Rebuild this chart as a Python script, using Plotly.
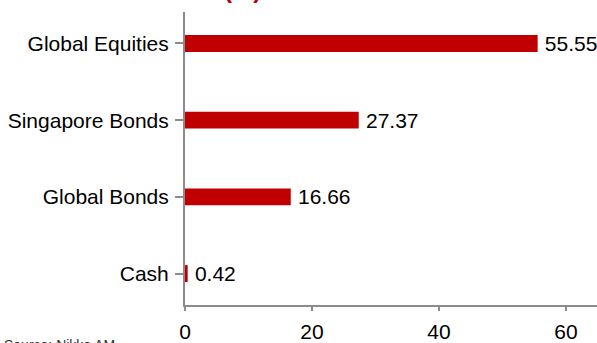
import plotly.graph_objects as go

categories = ["Global Equities", "Singapore Bonds", "Global Bonds", "Cash"]
values = [55.55, 27.37, 16.66, 0.42]
value_labels = ["55.55", "27.37", "16.66", "0.42"]
x_ticks = [0, 20, 40, 60]

FONT = "Liberation Sans, Arial, sans-serif"
W, H = 597, 343
L, R, T, B = 185, 0, 12, 33
pw, ph = W - L - R, H - T - B

fig = go.Figure()
fig.add_trace(go.Bar(
    x=values, y=categories, orientation="h",
    marker=dict(color="#C00000", line=dict(width=0)),
    text=["\u2009" + s for s in value_labels], textposition="outside", constraintext="none",
    textfont=dict(family=FONT, size=21, color="#000000"),
    cliponaxis=False, width=0.22,
))

fig.update_layout(
    width=W, height=H,
    margin=dict(l=L, r=R, t=T, b=B, pad=0),
    paper_bgcolor="white", plot_bgcolor="white",
    showlegend=False,
    font=dict(family=FONT, size=21, color="#000000"),
    xaxis=dict(
        range=[0, 64.9], tickvals=x_ticks, ticktext=[str(v) for v in x_ticks],
        showgrid=False, zeroline=False, showline=True, linecolor="#8c8c8c", linewidth=2,
        ticks="outside", ticklen=4, tickcolor="#8c8c8c", tickwidth=1.5,
        tickfont=dict(family=FONT, size=21, color="#000000"),
        ticklabelstandoff=3,
    ),
    yaxis=dict(
        categoryorder="array", categoryarray=categories[::-1],
        range=[-0.41, 3.41],
        showgrid=False, zeroline=False, showline=True, linecolor="#8c8c8c", linewidth=2,
        ticks="outside", ticklen=8, tickcolor="#8c8c8c", tickwidth=1.5,
        tickfont=dict(family=FONT, size=21, color="#000000"),
        ticklabelstandoff=2,
    ),
)

# Partially visible title at top (clipped by the page, as in the reference)
fig.add_annotation(
    text="<b>(%)</b>", xref="paper", yref="paper",
    x=(242 - L) / pw, y=(H - B - 5) / ph, xanchor="center", yanchor="bottom",
    showarrow=False, font=dict(family=FONT, size=24, color="#C00000"),
)
# Partially visible source note at bottom (clipped by the page, as in the reference)
fig.add_annotation(
    text="Source: Nikko AM", xref="paper", yref="paper",
    x=(2 - L) / pw, y=-(341 - (H - B)) / ph, xanchor="left", yanchor="top",
    showarrow=False, font=dict(family=FONT, size=14, color="#333333"),
)

fig.write_html("out.html")
